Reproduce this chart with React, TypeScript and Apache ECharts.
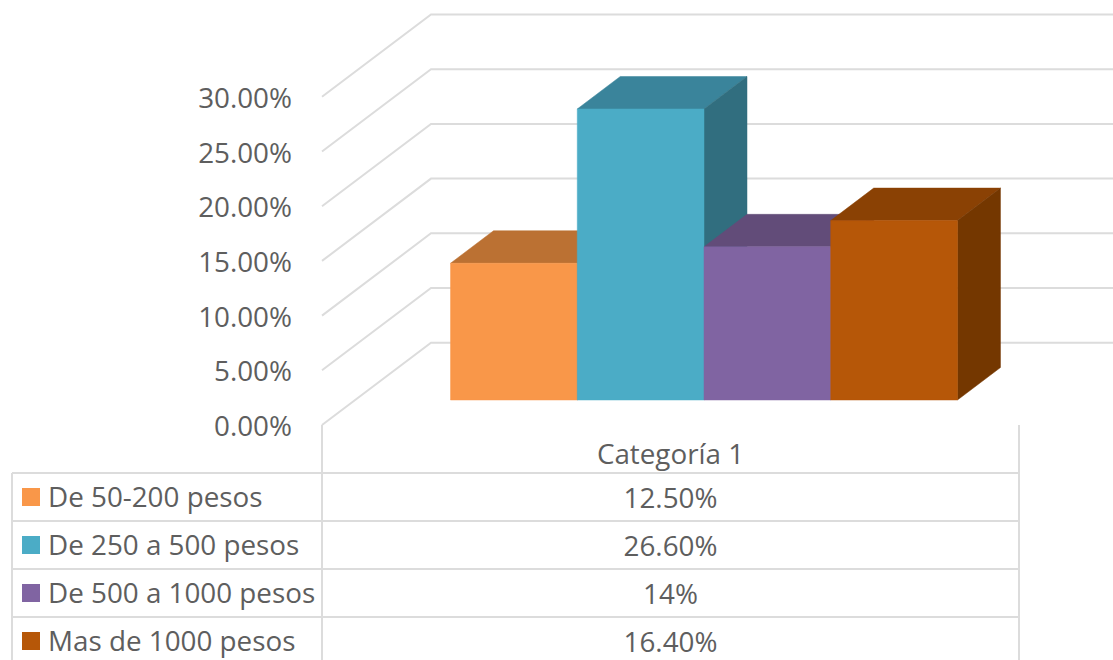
import React, { useEffect, useRef } from "react";
import * as echarts from "echarts";

const categories = ["Categoría 1"];
const axisTicks = [0, 5, 10, 15, 20, 25, 30];
const seriesNames = ["De 50-200 pesos", "De 250 a 500 pesos", "De 500 a 1000 pesos", "Mas de 1000 pesos"];
const seriesValues = [12.5, 26.6, 14, 16.4];
const tableLabels = ["12.50%", "26.60%", "14%", "16.40%"];
const frontColors = ["#F99749", "#4BACC6", "#8064A2", "#B65708"];
const topColors = ["#BB7133", "#3A849B", "#624C79", "#8A4104"];
const sideColors = ["#A56329", "#316E7F", "#553F6C", "#743700"];

const FONT = '"Open Sans", sans-serif';
const TEXT = "#5E5E5E";
const LINE = "#DCDCDC";
const FONT_SIZE = 27.8;

// 3D projection, in pixels
const WALL_DX = 109;
const WALL_DY = -82.3;
const BAR_DX = 43;
const BAR_DY = -32.5;
const PLANE_DX = 33.5;
const PLANE_DY = -25;

// table, in pixels
const TABLE_LEFT = 12;
const AXIS_LEFT = 322;
const TABLE_RIGHT = 1019;
const AXIS_BOTTOM = 425;
const TABLE_FIRST = 473;
const ROW = 48;
const PAGE_H = 660;
const PAGE_W = 1113;

function poly(points: number[][], fill: string) {
  return { type: "polygon", shape: { points }, style: { fill, stroke: fill, lineWidth: 0.5 } };
}

function buildTable() {
  const els: any[] = [];
  const line = (x1: number, y1: number, x2: number, y2: number) =>
    els.push({ type: "line", silent: true, shape: { x1, y1, x2, y2 }, style: { stroke: LINE, lineWidth: 2 } });
  line(AXIS_LEFT, AXIS_BOTTOM, AXIS_LEFT, PAGE_H);
  line(TABLE_RIGHT, AXIS_BOTTOM, TABLE_RIGHT, PAGE_H);
  line(TABLE_LEFT, TABLE_FIRST, TABLE_LEFT, PAGE_H);
  seriesNames.forEach((name, i) => {
    const top = TABLE_FIRST + i * ROW;
    const mid = top + ROW / 2;
    line(TABLE_LEFT, top, TABLE_RIGHT, top);
    els.push({ type: "rect", silent: true, shape: { x: 22, y: mid - 9, width: 18, height: 18 }, style: { fill: frontColors[i] } });
    els.push({
      type: "text",
      silent: true,
      x: 48,
      y: mid - 1,
      style: { text: name, font: `${FONT_SIZE}px ${FONT}`, fill: TEXT, textAlign: "left", textVerticalAlign: "middle" },
    });
    els.push({
      type: "text",
      silent: true,
      x: (AXIS_LEFT + TABLE_RIGHT) / 2,
      y: mid,
      style: { text: tableLabels[i], font: `${FONT_SIZE}px ${FONT}`, fill: TEXT, textAlign: "center", textVerticalAlign: "middle" },
    });
  });
  return els;
}

export default function App() {
  const ref = useRef<HTMLDivElement>(null);

  useEffect(() => {
    document.body.style.margin = "0";
    document.body.style.background = "#fff";
    const chart = echarts.init(ref.current!, null, { renderer: "svg" });

    const wall = {
      type: "custom",
      name: "wall",
      silent: true,
      data: axisTicks.map((t) => [0, t]),
      encode: { x: 0, y: 1 },
      renderItem: (_p: any, api: any) => {
        const [, y] = api.coord([0, api.value(1)]);
        return {
          type: "polyline",
          shape: {
            points: [
              [AXIS_LEFT, y],
              [AXIS_LEFT + WALL_DX, y + WALL_DY],
              [PAGE_W, y + WALL_DY],
            ],
          },
          style: { stroke: LINE, lineWidth: 2, fill: "none" },
        };
      },
    };

    const bars = seriesNames.map((name, i) => ({
      type: "custom",
      name,
      silent: true,
      data: [[0, seriesValues[i]]],
      encode: { x: 0, y: 1 },
      renderItem: (_p: any, api: any) => {
        const bw = api.size([1, 0])[0] / 5.5;
        const top = api.coord([0, api.value(1)]);
        const base = api.coord([0, 0]);
        const x0 = top[0] + PLANE_DX + (i - 2) * bw;
        const x1 = x0 + bw;
        const y0 = top[1] + PLANE_DY;
        const y1 = base[1] + PLANE_DY;
        return {
          type: "group",
          children: [
            poly([[x0, y0], [x0 + BAR_DX, y0 + BAR_DY], [x1 + BAR_DX, y0 + BAR_DY], [x1, y0]], topColors[i]),
            poly([[x1, y0], [x1 + BAR_DX, y0 + BAR_DY], [x1 + BAR_DX, y1 + BAR_DY], [x1, y1]], sideColors[i]),
            poly([[x0, y0], [x1, y0], [x1, y1], [x0, y1]], frontColors[i]),
          ],
        };
      },
    }));

    chart.setOption({
      animation: false,
      backgroundColor: "#ffffff",
      grid: { left: AXIS_LEFT, top: 96.8, width: TABLE_RIGHT - AXIS_LEFT, height: 328.2, containLabel: false },
      xAxis: {
        type: "category",
        data: categories,
        axisLine: { show: false },
        axisTick: { show: false },
        axisLabel: { color: TEXT, fontFamily: FONT, fontSize: FONT_SIZE, margin: 14 },
      },
      yAxis: {
        type: "value",
        min: 0,
        max: 30,
        interval: 5,
        splitLine: { show: false },
        axisLine: { show: false },
        axisTick: { show: false },
        axisLabel: {
          color: TEXT,
          fontFamily: FONT,
          fontSize: FONT_SIZE,
          margin: 30,
          formatter: (v: number) => `${v.toFixed(2)}%`,
        },
      },
      graphic: buildTable(),
      series: [wall, ...bars],
    });
    return () => chart.dispose();
  }, []);

  return <div ref={ref} style={{ width: PAGE_W, height: PAGE_H }} />;
}
